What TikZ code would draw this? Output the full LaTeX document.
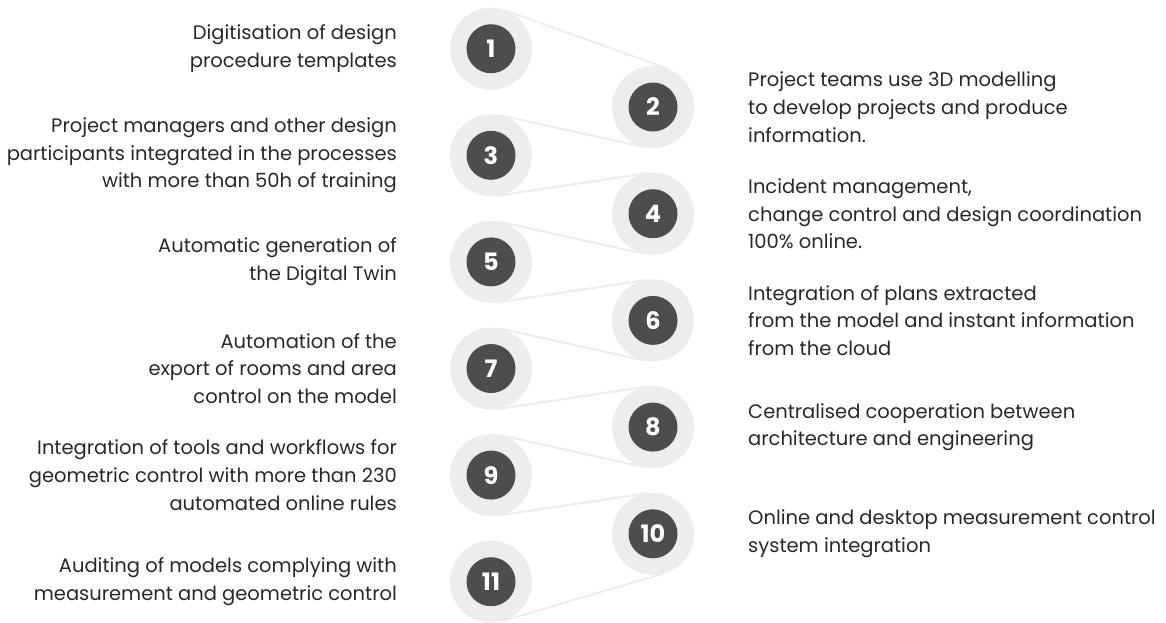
\documentclass[tikz,border=0pt]{standalone}
\usepackage{fontspec}
\setmainfont{Poppins}
\usetikzlibrary{
	positioning,
	calc,
	backgrounds
}

\definecolor{ringgray}{HTML}{EDEDED}
\definecolor{numgray}{HTML}{4D4D4D}
\definecolor{txtgray}{HTML}{2B2728}

\tikzset{
	stepring/.style={circle, fill=ringgray, minimum size=82pt, inner sep=0pt, outer sep=0pt,
		path picture={\fill[numgray] (path picture bounding box.center) circle (24.5pt);},
		text=white, font=\bfseries\fontsize{24}{24}\selectfont},
	lefttext/.style={align=right, inner sep=0pt, text=txtgray, font=\fontsize{19.5}{27.7}\selectfont},
	righttext/.style={align=left, inner sep=0pt, text=txtgray, font=\fontsize{19.5}{27.7}\selectfont},
	belt/.style={draw=ringgray, line width=2pt}
}

\begin{document}
\begin{tikzpicture}[x=1pt, y=-1pt]

\useasboundingbox (0,0) rectangle (1166,622);

% Step circles (odd on the left, even on the right)
\foreach \i in {1,3,5,7,9,11} {
    \node[stepring] (c\i) at (491, {48.7 + 106.6*(\i-1)/2}) {\i};
}
\foreach \i in {2,4,6,8,10} {
    \node[stepring] (c\i) at (653, {107 + 106.7*(\i-2)/2}) {\i};
}

% Belt lines behind the circles
\begin{scope}[on background layer]
\draw[belt] ($(c1)!41pt!90:(c2)$) -- ($(c2)!41pt!-90:(c1)$);
\foreach \i/\n/\s in {2/3/1, 3/4/2, 4/5/1, 5/6/2, 6/7/1, 7/8/2, 8/9/1, 9/10/2} {
    \coordinate (m\i) at ($(c\i)!0.5!(c\n)$);
    \draw[belt] (tangent cs:node=c\i, point={(m\i)}, solution=\s) -- (tangent cs:node=c\n, point={(m\i)}, solution=\s);
}
\draw[belt] ($(c10)!41pt!90:(c11)$) -- ($(c11)!41pt!-90:(c10)$);
\end{scope}

% Left texts
\node[lefttext, left=53pt of c1] (t1) {Digitisation of design\\procedure templates};
\node[lefttext, left=53pt of c3] (t3) {Project managers and other design\\participants integrated in the processes\\with more than 50h of training};
\node[lefttext, left=53pt of c5] (t5) {Automatic generation of\\the Digital Twin};
\node[lefttext, left=53pt of c7] (t7) {Automation of the\\export of rooms and area\\control on the model};
\node[lefttext, left=53pt of c9] (t9) {Integration of tools and workflows for\\geometric control with more than 230\\automated online rules};
\node[lefttext, left=53pt of c11] (t11) {Auditing of models complying with\\measurement and geometric control};

% Right texts
\node[righttext, right=54pt of c2] (t2) {Project teams use 3D modelling\\to develop projects and produce\\information.};
\node[righttext, right=54pt of c4] (t4) {Incident management,\\change control and design coordination\\100\% online.};
\node[righttext, right=54pt of c6] (t6) {Integration of plans extracted\\from the model and instant information\\from the cloud};
\node[righttext, right=54pt of c8] (t8) {Centralised cooperation between\\architecture and engineering};
\node[righttext, right=54pt of c10] (t10) {Online and desktop measurement control\\system integration};

\end{tikzpicture}
\end{document}
